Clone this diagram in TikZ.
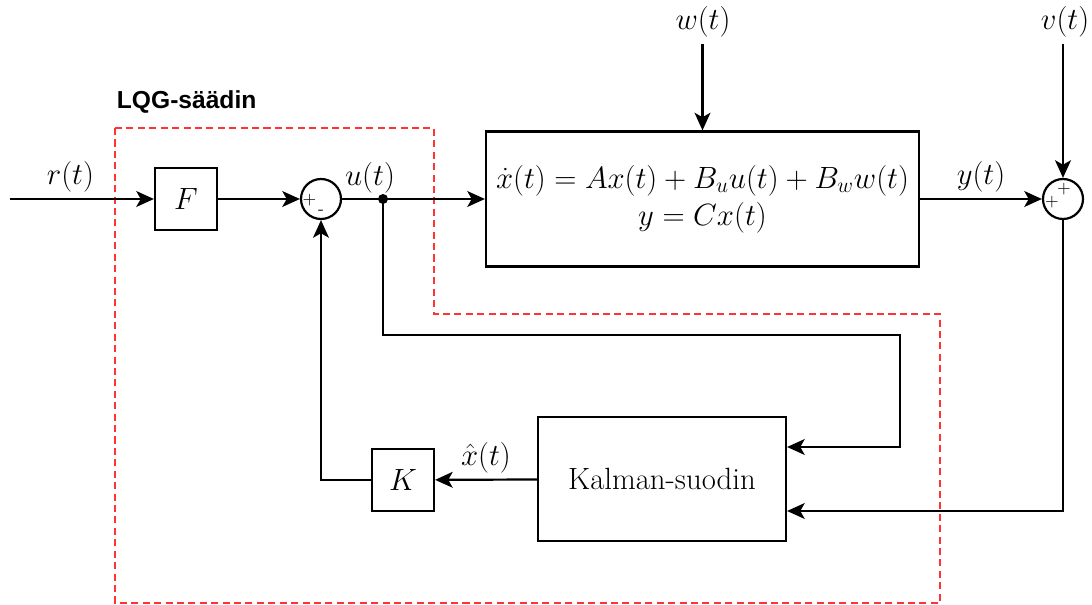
\RequirePackage{fix-cm}
\documentclass[tikz,border=0pt]{standalone}
\usepackage{fontspec}
\newfontfamily\headfont{Liberation Sans}
\usetikzlibrary{arrows.meta, positioning}
\definecolor{cred}{HTML}{FF3333}
\tikzset{
  every picture/.style={line width=1.25pt, font=\fontsize{17.5}{21}\selectfont},
  box/.style={draw, fill=white, align=center, inner sep=0pt},
  sum/.style={draw, circle, minimum size=0.8cm, inner sep=0pt},
  sign/.style={font=\fontsize{10}{10}\selectfont, inner sep=0pt},
  arrow/.style={-{Stealth[length=10pt, width=9pt, inset=2.5pt]}},
  region/.style={draw=cred, dash pattern=on 4pt off 2.5pt, line width=0.9pt},
  title/.style={font=\headfont\bfseries\fontsize{14}{16}\selectfont},
}

\begin{document}
\begin{tikzpicture}
  \useasboundingbox (0,0) rectangle (21.84,-12.1);
  % controller region
  \draw[region] (2.3,-2.56) -- (8.68,-2.56) -- (8.68,-6.28) -- (18.8,-6.28) -- (18.8,-12.06) -- (2.3,-12.06) -- cycle;
  \node[title, anchor=west] (lqg) at (2.2,-2.04) {LQG-säädin};
  % forward path
  \coordinate (in) at (0.2,-3.98);
  \node[box, minimum size=1.24cm] (F) at (3.72,-3.98) {$F$};
  \node[sum] (s1) at (6.42,-3.98) {};
  \node[sign] (s1p) at ([xshift=-0.23cm, yshift=-0.03cm]s1.center) {$+$};
  \node[sign] (s1m) at ([yshift=-0.26cm]s1.center) {-};
  \coordinate (u) at (7.66,-3.98);
  \node[box, minimum width=8.66cm, minimum height=2.7cm] (plant) at (14.05,-3.98)
    {$\dot{x}(t) = Ax(t) + B_u u(t) + B_w w(t)$\\ $y = Cx(t)$};
  \node[sum] (s2) at (21.26,-3.98) {};
  \node[sign] (s2a) at ([xshift=0.02cm, yshift=0.2cm]s2.center) {$+$};
  \node[sign] (s2b) at ([xshift=-0.22cm, yshift=-0.07cm]s2.center) {$+$};
  \node (w) at (14.06,-0.44) {$w(t)$};
  \node (v) at (21.3,-0.44) {$v(t)$};
  \node (ulab) at (7.4,-3.56) {$u(t)$};

  \draw[arrow] (in) -- node[above, pos=0.42] (rlab) {$r(t)$} (F);
  \draw[arrow] (F) -- (s1);
  \draw (s1) -- (u);
  \draw[arrow] (u) -- (plant);
  \draw[arrow] (plant) -- node[above] (ylab) {$y(t)$} (s2);
  \draw[arrow] (w.south -| plant.north) -- (plant);
  \draw[arrow] (v.south -| s2) -- (s2);
  \fill (u) circle (0.1);

  % feedback path
  \node[box, minimum width=4.96cm, minimum height=2.48cm] (kf) at (13.24,-9.58) {Kalman-suodin};
  \node[box, minimum size=1.24cm] (K) at (8.06,-9.6) {$K$};
  \coordinate (bend) at (18.0,-6.7);
  \draw[arrow] (u) |- (bend) |- ([yshift=0.64cm]kf.east);
  \draw[arrow] (s2) |- ([yshift=-0.64cm]kf.east);
  \draw[arrow] (kf) -- node[above] (xlab) {$\hat{x}(t)$} (K);
  \draw[arrow] (K) -| (s1);
\end{tikzpicture}
\end{document}
